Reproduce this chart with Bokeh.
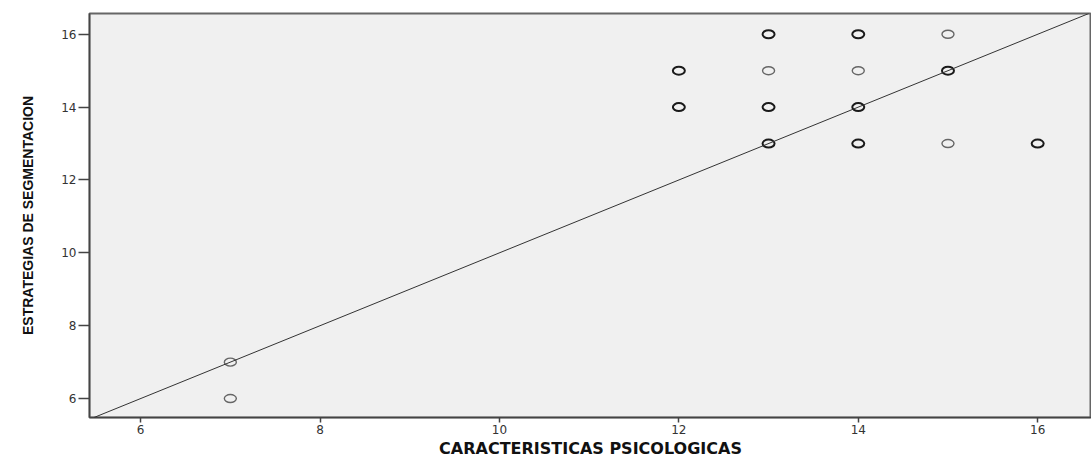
from bokeh.plotting import figure
from bokeh.models import Range1d, FixedTicker, Slope
from bokeh.embed import file_html
from bokeh.resources import INLINE

# Distinct observed score pairs and how many cases fall on each
psicologicas = [7, 7, 12, 12, 13, 13, 13, 13, 14, 14, 14, 14, 15, 15, 15, 16]
segmentacion = [6, 7, 15, 14, 16, 15, 14, 13, 16, 15, 14, 13, 16, 15, 13, 13]
casos = [1, 1, 2, 2, 2, 1, 2, 2, 2, 1, 3, 2, 1, 2, 1, 2]

x_ticks = [6, 8, 10, 12, 14, 16]
y_ticks = [6, 8, 10, 12, 14, 16]

p = figure(
    width=1091, height=460,
    output_backend="svg", toolbar_location=None,
    x_range=Range1d(5.43, 16.6), y_range=Range1d(5.48, 16.57),
    min_border_left=89, min_border_right=0, min_border_top=13, min_border_bottom=42,
    background_fill_color="#F0F0F0", border_fill_color="white",
)
p.grid.visible = False
p.outline_line_color = "#666666"
p.outline_line_width = 2

# Reference line y = x
p.add_layout(Slope(gradient=1, y_intercept=0, line_color="#333333", line_width=1))

single = [i for i, c in enumerate(casos) if c == 1]
multi = [i for i, c in enumerate(casos) if c > 1]

p.ellipse(
    x=[psicologicas[i] for i in single], y=[segmentacion[i] for i in single],
    width=12, height=8, width_units="screen", height_units="screen",
    fill_color=None, line_color="#666666", line_width=1.4,
)
p.ellipse(
    x=[psicologicas[i] for i in multi], y=[segmentacion[i] for i in multi],
    width=12, height=8, width_units="screen", height_units="screen",
    fill_color=None, line_color="#1a1a1a", line_width=2,
)

for ax in (p.xaxis, p.yaxis):
    ax.axis_line_color = "#444444"
    ax.axis_line_width = 1.5
    ax.major_tick_line_color = "#444444"
    ax.major_tick_line_width = 1.5
    ax.minor_tick_line_color = None
    ax.major_tick_in = 0
    ax.major_label_text_font = "DejaVu Sans"
    ax.major_label_text_font_size = "12px"
    ax.major_label_text_color = "#333333"
    ax.axis_label_text_font_style = "bold"
    ax.axis_label_text_color = "#111111"

p.xaxis.ticker = FixedTicker(ticks=x_ticks)
p.yaxis.ticker = FixedTicker(ticks=y_ticks)
p.xaxis.major_tick_out = 5
p.yaxis.major_tick_out = 11
p.xaxis.major_label_standoff = 2
p.yaxis.major_label_standoff = 2
p.xaxis.axis_label = "CARACTERISTICAS PSICOLOGICAS"
p.yaxis.axis_label = "ESTRATEGIAS DE SEGMENTACION"
p.xaxis.axis_label_text_font = "DejaVu Sans"
p.xaxis.axis_label_text_font_size = "16px"
p.yaxis.axis_label_text_font = "Liberation Sans"
p.yaxis.axis_label_text_font_size = "14px"
p.xaxis.axis_label_standoff = 2
p.yaxis.axis_label_standoff = 22

open("out.html", "w").write(file_html(p, INLINE))
